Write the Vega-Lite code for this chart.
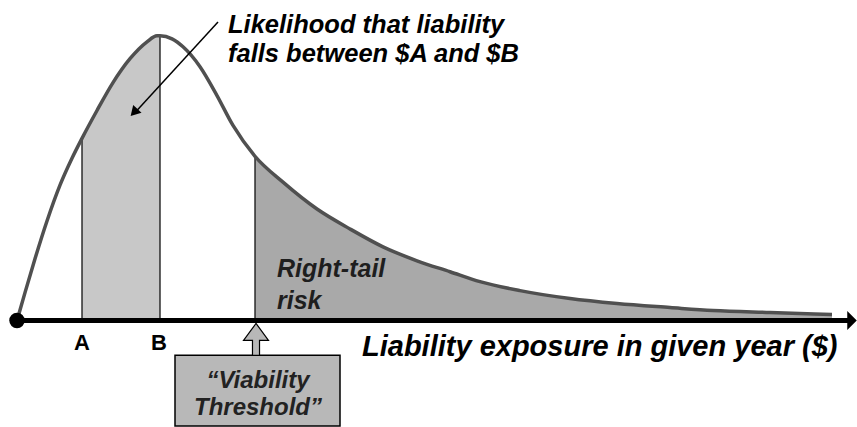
{
  "$schema": "https://vega.github.io/schema/vega-lite/v6.json",
  "width": 857,
  "height": 427,
  "autosize": {"type": "fit", "contains": "padding"},
  "padding": 0,
  "background": "white",
  "config": {"view": {"stroke": null}},
  "datasets": {
    "curve": [
      {"x": 17, "v": 0}, {"x": 25, "v": 28}, {"x": 35, "v": 62}, {"x": 47, "v": 100},
      {"x": 60, "v": 136}, {"x": 72, "v": 163}, {"x": 82, "v": 183},
      {"x": 97, "v": 211}, {"x": 113, "v": 239}, {"x": 130, "v": 263}, {"x": 147, "v": 280},
      {"x": 157, "v": 286}, {"x": 160, "v": 286}, {"x": 172, "v": 283}, {"x": 183, "v": 275},
      {"x": 200, "v": 255}, {"x": 217, "v": 226}, {"x": 233, "v": 196}, {"x": 255, "v": 165},
      {"x": 283, "v": 139}, {"x": 317, "v": 112}, {"x": 350, "v": 92}, {"x": 383, "v": 74},
      {"x": 417, "v": 60}, {"x": 450, "v": 49}, {"x": 480, "v": 39}, {"x": 520, "v": 30},
      {"x": 570, "v": 22}, {"x": 617, "v": 17}, {"x": 670, "v": 13}, {"x": 713, "v": 10},
      {"x": 770, "v": 8}, {"x": 832, "v": 6}
    ]
  },
  "layer": [
    {
      "data": {"name": "curve"},
      "transform": [{"filter": {"field": "x", "range": [82, 160]}}],
      "mark": {"type": "area", "interpolate": "monotone", "fill": "#c8c8c8"},
      "encoding": {
        "x": {"field": "x", "type": "quantitative", "scale": {"domain": [0, 857], "nice": false, "zero": false}, "axis": null},
        "y": {"field": "v", "type": "quantitative", "scale": {"domain": [-105, 322], "nice": false, "zero": false}, "axis": null},
        "y2": {"datum": 0}
      }
    },
    {
      "data": {"name": "curve"},
      "transform": [{"filter": {"field": "x", "range": [255, 832]}}],
      "mark": {"type": "area", "interpolate": "monotone", "fill": "#a9a9a9"},
      "encoding": {
        "x": {"field": "x", "type": "quantitative", "scale": {"domain": [0, 857], "nice": false, "zero": false}, "axis": null},
        "y": {"field": "v", "type": "quantitative", "scale": {"domain": [-105, 322], "nice": false, "zero": false}, "axis": null},
        "y2": {"datum": 0}
      }
    },
    {
      "data": {"values": [{"x": 82, "v": 183}, {"x": 160, "v": 286}, {"x": 255, "v": 165}]},
      "mark": {"type": "rule", "stroke": "#111", "strokeWidth": 1.3},
      "encoding": {
        "x": {"field": "x", "type": "quantitative", "scale": {"domain": [0, 857], "nice": false, "zero": false}, "axis": null},
        "y": {"field": "v", "type": "quantitative", "scale": {"domain": [-105, 322], "nice": false, "zero": false}, "axis": null},
        "y2": {"datum": 0}
      }
    },
    {
      "data": {"name": "curve"},
      "mark": {"type": "line", "interpolate": "monotone", "stroke": "#505050", "strokeWidth": 3.5},
      "encoding": {
        "x": {"field": "x", "type": "quantitative", "scale": {"domain": [0, 857], "nice": false, "zero": false}, "axis": null},
        "y": {"field": "v", "type": "quantitative", "scale": {"domain": [-105, 322], "nice": false, "zero": false}, "axis": null}
      }
    },
    {
      "data": {"values": [{"x": 17, "x2": 850, "v": 0}]},
      "mark": {"type": "rule", "stroke": "black", "strokeWidth": 5},
      "encoding": {
        "x": {"field": "x", "type": "quantitative", "scale": {"domain": [0, 857], "nice": false, "zero": false}, "axis": null},
        "x2": {"field": "x2"},
        "y": {"field": "v", "type": "quantitative", "scale": {"domain": [-105, 322], "nice": false, "zero": false}, "axis": null}
      }
    },
    {
      "data": {"values": [{"x": 17, "v": 0}]},
      "mark": {"type": "point", "filled": true, "color": "black", "size": 240, "opacity": 1},
      "encoding": {
        "x": {"field": "x", "type": "quantitative", "scale": {"domain": [0, 857], "nice": false, "zero": false}, "axis": null},
        "y": {"field": "v", "type": "quantitative", "scale": {"domain": [-105, 322], "nice": false, "zero": false}, "axis": null}
      }
    },
    {
      "data": {"values": [{"x": 852, "v": 0}]},
      "mark": {"type": "point", "filled": true, "color": "black", "size": 361, "opacity": 1, "shape": "M -0.5 -1 L 0.5 0 L -0.5 1 Z"},
      "encoding": {
        "x": {"field": "x", "type": "quantitative", "scale": {"domain": [0, 857], "nice": false, "zero": false}, "axis": null},
        "y": {"field": "v", "type": "quantitative", "scale": {"domain": [-105, 322], "nice": false, "zero": false}, "axis": null}
      }
    },
    {
      "data": {"values": [{"x": 218, "v": 300, "x2": 136, "v2": 210}]},
      "mark": {"type": "rule", "stroke": "black", "strokeWidth": 1.5},
      "encoding": {
        "x": {"field": "x", "type": "quantitative", "scale": {"domain": [0, 857], "nice": false, "zero": false}, "axis": null},
        "x2": {"field": "x2"},
        "y": {"field": "v", "type": "quantitative", "scale": {"domain": [-105, 322], "nice": false, "zero": false}, "axis": null},
        "y2": {"field": "v2"}
      }
    },
    {
      "data": {"values": [{"x": 134, "v": 209}]},
      "mark": {"type": "point", "filled": true, "color": "black", "size": 130, "opacity": 1, "shape": "triangle-up", "angle": 223},
      "encoding": {
        "x": {"field": "x", "type": "quantitative", "scale": {"domain": [0, 857], "nice": false, "zero": false}, "axis": null},
        "y": {"field": "v", "type": "quantitative", "scale": {"domain": [-105, 322], "nice": false, "zero": false}, "axis": null}
      }
    },
    {
      "data": {"values": [{"x": 228, "v": 289, "label": "Likelihood that liability\nfalls between $A and $B"}]},
      "mark": {"type": "text", "align": "left", "baseline": "alphabetic", "lineBreak": "\n", "lineHeight": 29, "font": "Liberation Sans", "fontWeight": "bold", "fontStyle": "italic", "fontSize": 25.5, "color": "black"},
      "encoding": {
        "x": {"field": "x", "type": "quantitative", "scale": {"domain": [0, 857], "nice": false, "zero": false}, "axis": null},
        "y": {"field": "v", "type": "quantitative", "scale": {"domain": [-105, 322], "nice": false, "zero": false}, "axis": null},
        "text": {"field": "label"}
      }
    },
    {
      "data": {"values": [{"x": 277, "v": 44, "label": "Right-tail\nrisk"}]},
      "mark": {"type": "text", "align": "left", "baseline": "alphabetic", "lineBreak": "\n", "lineHeight": 32, "font": "Liberation Sans", "fontWeight": "bold", "fontStyle": "italic", "fontSize": 25, "color": "#1e1e1e"},
      "encoding": {
        "x": {"field": "x", "type": "quantitative", "scale": {"domain": [0, 857], "nice": false, "zero": false}, "axis": null},
        "y": {"field": "v", "type": "quantitative", "scale": {"domain": [-105, 322], "nice": false, "zero": false}, "axis": null},
        "text": {"field": "label"}
      }
    },
    {
      "data": {"values": [{"x": 82, "v": -30, "label": "A"}, {"x": 159, "v": -30, "label": "B"}]},
      "mark": {"type": "text", "align": "center", "baseline": "alphabetic", "font": "Liberation Sans", "fontWeight": "bold", "fontSize": 22, "color": "black"},
      "encoding": {
        "x": {"field": "x", "type": "quantitative", "scale": {"domain": [0, 857], "nice": false, "zero": false}, "axis": null},
        "y": {"field": "v", "type": "quantitative", "scale": {"domain": [-105, 322], "nice": false, "zero": false}, "axis": null},
        "text": {"field": "label"}
      }
    },
    {
      "data": {"values": [{"x": 362, "v": -36, "label": "Liability exposure in given year ($)"}]},
      "mark": {"type": "text", "align": "left", "baseline": "alphabetic", "font": "Liberation Sans", "fontWeight": "bold", "fontStyle": "italic", "fontSize": 29, "color": "black"},
      "encoding": {
        "x": {"field": "x", "type": "quantitative", "scale": {"domain": [0, 857], "nice": false, "zero": false}, "axis": null},
        "y": {"field": "v", "type": "quantitative", "scale": {"domain": [-105, 322], "nice": false, "zero": false}, "axis": null},
        "text": {"field": "label"}
      }
    },
    {
      "data": {"values": [{"x": 175, "x2": 340, "v": -35, "v2": -106}]},
      "mark": {"type": "rect", "fill": "#b8b8b8", "stroke": "black", "strokeWidth": 1.5},
      "encoding": {
        "x": {"field": "x", "type": "quantitative", "scale": {"domain": [0, 857], "nice": false, "zero": false}, "axis": null},
        "x2": {"field": "x2"},
        "y": {"field": "v", "type": "quantitative", "scale": {"domain": [-105, 322], "nice": false, "zero": false}, "axis": null},
        "y2": {"field": "v2"}
      }
    },
    {
      "data": {"values": [{"x": 256, "v": -19}]},
      "mark": {"type": "point", "filled": true, "fill": "#b8b8b8", "stroke": "black", "strokeWidth": 1.2, "size": 1024, "opacity": 1, "shape": "M 0 -1 L 0.78 0.06 L 0.22 0.06 L 0.22 1 L -0.22 1 L -0.22 0.06 L -0.78 0.06 Z"},
      "encoding": {
        "x": {"field": "x", "type": "quantitative", "scale": {"domain": [0, 857], "nice": false, "zero": false}, "axis": null},
        "y": {"field": "v", "type": "quantitative", "scale": {"domain": [-105, 322], "nice": false, "zero": false}, "axis": null}
      }
    },
    {
      "data": {"values": [{"x": 258, "v": -68, "label": "“Viability\nThreshold”"}]},
      "mark": {"type": "text", "align": "center", "baseline": "alphabetic", "lineBreak": "\n", "lineHeight": 27, "font": "Liberation Sans", "fontWeight": "bold", "fontStyle": "italic", "fontSize": 24, "color": "#222222"},
      "encoding": {
        "x": {"field": "x", "type": "quantitative", "scale": {"domain": [0, 857], "nice": false, "zero": false}, "axis": null},
        "y": {"field": "v", "type": "quantitative", "scale": {"domain": [-105, 322], "nice": false, "zero": false}, "axis": null},
        "text": {"field": "label"}
      }
    }
  ]
}
